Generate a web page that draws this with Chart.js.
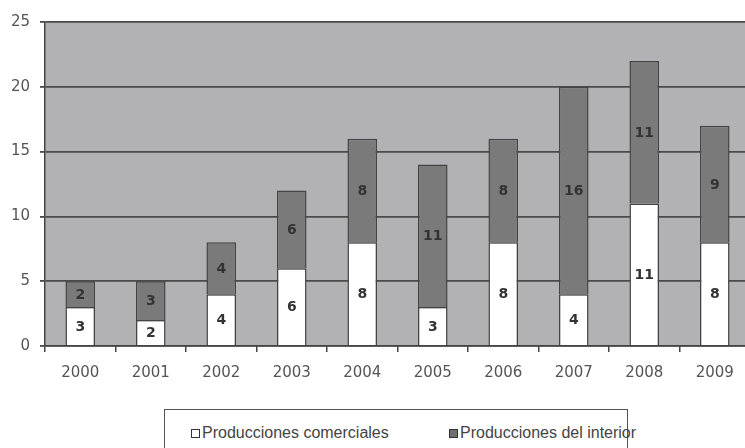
<!DOCTYPE html>
<html lang="es">
<head>
    <meta charset="UTF-8">
    <title>Producciones</title>
    <script src="https://cdn.jsdelivr.net/npm/chart.js@4/dist/chart.umd.min.js"></script>
    <style>
        body { margin: 0; background: #fff; overflow: hidden; width: 745px; height: 448px; position: relative; }
        .chart-wrapper { position: absolute; left: 0; top: 0; width: 750px; height: 386px; }
        .legend-box {
            position: absolute; left: 164px; top: 409px; width: 464px; height: 50px;
            border: 1.5px solid #555; box-sizing: border-box;
            font-family: "Liberation Sans", Arial, sans-serif; font-size: 16px; color: #444;
        }
        .legend-item { position: absolute; top: 14px; display: flex; align-items: center; line-height: 18px; white-space: nowrap; }
        .legend-item span.sw { width: 7px; height: 7px; border: 1.5px solid #333; margin-right: 2px; }
    </style>
</head>
<body>
<div class="chart-wrapper"><canvas id="chart"></canvas></div>
<div class="legend-box">
    <div class="legend-item" style="left: 26px"><span class="sw" style="background:#fff"></span><span id="lbl0"></span></div>
    <div class="legend-item" style="left: 284px"><span class="sw" style="background:#6e6e6e"></span><span id="lbl1"></span></div>
</div>
<script>
    const years = ['2000', '2001', '2002', '2003', '2004', '2005', '2006', '2007', '2008', '2009']
    const comerciales = [3, 2, 4, 6, 8, 3, 8, 4, 11, 8]
    const interior = [2, 3, 4, 6, 8, 11, 8, 16, 11, 9]
    const seriesNames = ['Producciones comerciales', 'Producciones del interior']

    document.getElementById('lbl0').textContent = seriesNames[0]
    document.getElementById('lbl1').textContent = seriesNames[1]

    const plotBackground = {
        id: 'plotBackground',
        beforeDraw(chart) {
            const {ctx, chartArea} = chart
            ctx.save()
            ctx.fillStyle = '#b2b2b4'
            ctx.fillRect(chartArea.left, chartArea.top, chartArea.right - chartArea.left, chartArea.bottom - chartArea.top)
            ctx.restore()
        }
    }

    const valueLabels = {
        id: 'valueLabels',
        afterDatasetsDraw(chart) {
            const ctx = chart.ctx
            ctx.save()
            ctx.font = 'bold 14px "DejaVu Sans", sans-serif'
            ctx.fillStyle = '#333'
            ctx.textAlign = 'center'
            ctx.textBaseline = 'middle'
            chart.data.datasets.forEach((ds, i) => {
                chart.getDatasetMeta(i).data.forEach((bar, j) => {
                    const y = (bar.y + bar.base) / 2
                    ctx.fillText(ds.data[j], bar.x, y + 1)
                })
            })
            ctx.restore()
        }
    }

    new Chart(document.getElementById('chart'), {
        type: 'bar',
        data: {
            labels: years,
            datasets: [
                {
                    label: seriesNames[0],
                    data: comerciales,
                    backgroundColor: '#ffffff',
                    borderColor: '#444',
                    borderWidth: 1.5,
                    categoryPercentage: 1,
                    barPercentage: 0.42,
                },
                {
                    label: seriesNames[1],
                    data: interior,
                    backgroundColor: '#7a7a7a',
                    borderColor: '#444',
                    borderWidth: 1.5,
                    categoryPercentage: 1,
                    barPercentage: 0.42,
                },
            ],
        },
        options: {
            responsive: true,
            maintainAspectRatio: false,
            animation: false,
            layout: {padding: {top: 22, left: 0, right: 0, bottom: 0}},
            plugins: {
                legend: {display: false},
                tooltip: {enabled: false},
            },
            scales: {
                x: {
                    stacked: true,
                    afterFit(scale) { scale.height = 40 },
                    grid: {drawOnChartArea: false, color: '#444', tickLength: 6, lineWidth: 1.5},
                    border: {color: '#444', width: 1.5},
                    ticks: {color: '#555', font: {family: '"DejaVu Sans", sans-serif', size: 15}, padding: 12},
                },
                y: {
                    stacked: true,
                    min: 0,
                    max: 25,
                    afterFit(scale) { scale.width = 45 },
                    grid: {color: '#4a4a4a', lineWidth: 1.8, tickLength: 5},
                    border: {color: '#444', width: 1.5},
                    ticks: {stepSize: 5, color: '#555', font: {family: '"DejaVu Sans", sans-serif', size: 15}, padding: 10},
                },
            },
        },
        plugins: [plotBackground, valueLabels],
    })
</script>
</body>
</html>
